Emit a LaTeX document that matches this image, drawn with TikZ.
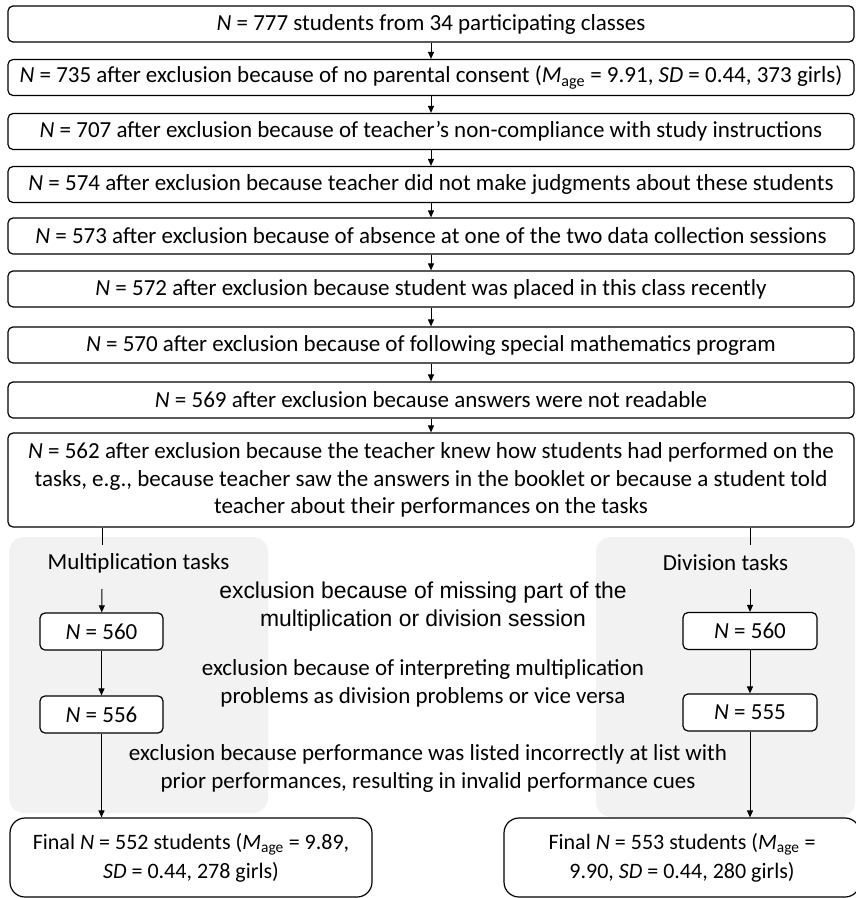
\documentclass[tikz,border=0pt]{standalone}
\usepackage{fontspec}
\setmainfont{Carlito}
\newfontfamily\arialfont{Liberation Sans}
\usepackage{tikz}
\usetikzlibrary{arrows.meta}
\definecolor{panelgray}{RGB}{242,242,242}
\newcommand{\Mage}{\textit{M}\textsubscript{age}}
\tikzset{
  stagebox/.style={draw, line width=1.2bp, rounded corners=5bp, fill=white,
    minimum width=846bp, minimum height=36bp, inner sep=0pt,
    font=\fontsize{23bp}{27.5bp}\selectfont},
  countbox/.style={draw, line width=1.2bp, rounded corners=5bp, fill=white,
    minimum height=37bp, inner sep=0pt, font=\fontsize{23bp}{27bp}\selectfont},
  finalbox/.style={draw, line width=1.2bp, rounded corners=15bp, fill=white,
    minimum height=79bp, inner sep=0pt, align=center,
    font=\fontsize{22bp}{29bp}\selectfont},
  panel/.style={fill=panelgray, rounded corners=15bp},
  note/.style={align=center, font=\fontsize{23bp}{28bp}\selectfont}
}

\begin{document}
\begin{tikzpicture}[x=1bp,y=-1bp,>={Triangle[length=7bp,width=6bp]},line width=1bp]
\useasboundingbox (0,0) rectangle (856,898);
% grey panels behind the two task branches
\fill[panel] (9,537) rectangle (268,813);
\fill[panel] (596,537) rectangle (855,817);

\node[stagebox] (b1) at (431,24) {\textit{N} = 777 students from 34 participating classes};
\node[stagebox] (b2) at (431,77.5) {\textit{N} = 735 after exclusion because of no parental consent (\Mage{} = 9.91, \textit{SD} = 0.44, 373 girls)};
\node[stagebox] (b3) at (431,131.5) {\textit{N} = 707 after exclusion because of teacher’s non-compliance with study instructions};
\node[stagebox] (b4) at (431,184.5) {\textit{N} = 574 after exclusion because teacher did not make judgments about these students};
\node[stagebox] (b5) at (431,236) {\textit{N} = 573 after exclusion because of absence at one of the two data collection sessions};
\node[stagebox] (b6) at (431,289) {\textit{N} = 572 after exclusion because student was placed in this class recently};
\node[stagebox] (b7) at (431,345) {\textit{N} = 570 after exclusion because of following special mathematics program};
\node[stagebox] (b8) at (431,400) {\textit{N} = 569 after exclusion because answers were not readable};
\node[stagebox, minimum height=94bp, align=center] (b9) at (431,480) {\textit{N} = 562 after exclusion because the teacher knew how students had performed on the\\
  tasks, e.g., because teacher saw the answers in the booklet or because a student told\\
  teacher about their performances on the tasks};
\foreach \a/\b in {b1/b2,b2/b3,b3/b4,b4/b5,b5/b6,b6/b7,b7/b8,b8/b9}
  \draw[->] (\a) -- (\b);

\node[note] (mhead) at (138.5,563) {Multiplication tasks};
\node[note] (dhead) at (725.5,563) {Division tasks};

\node[note, font=\arialfont\fontsize{22.9bp}{28bp}\selectfont] (n1) at (423,607) {exclusion because of missing part of the\\ multiplication or division session};
\node[note] (n2) at (423,683) {exclusion because of interpreting multiplication\\ problems as division problems or vice versa};
\node[note] (n3) at (428,768) {exclusion because performance was listed incorrectly at list with\\ prior performances, resulting in invalid performance cues};

\node[countbox, minimum width=123bp] (m560) at (101.5,631.5) {\textit{N} = 560};
\node[countbox, minimum width=123bp] (m556) at (101.5,714.5) {\textit{N} = 556};
\node[countbox, minimum width=134bp] (d560) at (750,631) {\textit{N} = 560};
\node[countbox, minimum width=134bp] (d555) at (750,712.5) {\textit{N} = 555};
\node[finalbox, minimum width=362bp] (mfinal) at (191,857.5) {Final \textit{N} = 552 students (\Mage{} = 9.89,\\ \textit{SD} = 0.44, 278 girls)};
\node[finalbox, minimum width=356bp] (dfinal) at (682,857.5) {Final \textit{N} = 553 students (\Mage{} =\\ 9.90, \textit{SD} = 0.44, 280 girls)};

\coordinate (mtop) at (102,545);
\coordinate (mgo) at (102,589);
\coordinate (dtop) at (750,545);
\coordinate (dgo) at (750,589);
\draw (mtop |- b9.south) -- (mtop);
\draw (dtop |- b9.south) -- (dtop);
\draw[->] (mgo) -- (m560);
\draw[->] (m560) -- (m556);
\draw[->] (m556.south) -- (m556.south |- mfinal.north);
\draw[->] (dgo) -- (d560);
\draw[->] (d560) -- (d555);
\draw[->] (d555.south) -- (d555.south |- dfinal.north);
\end{tikzpicture}
\end{document}
